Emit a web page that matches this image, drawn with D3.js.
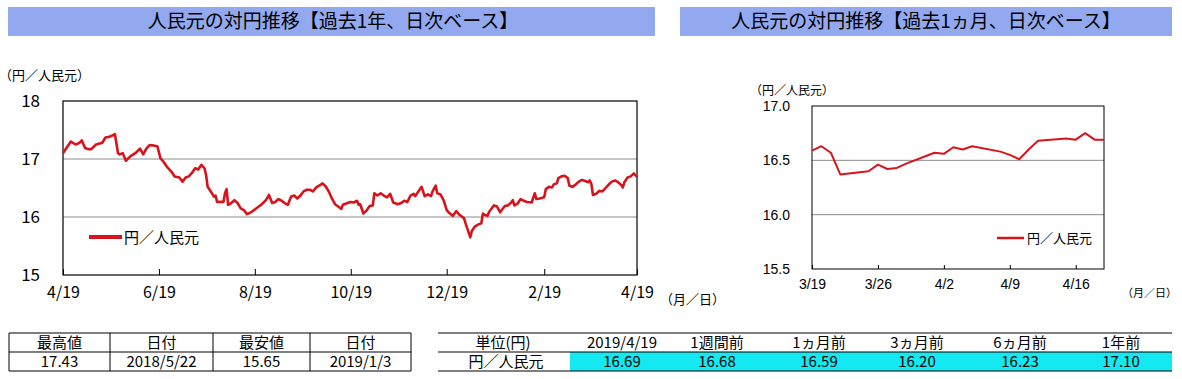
<!DOCTYPE html>
<html><head><meta charset="utf-8">
<script src="https://cdn.jsdelivr.net/npm/d3@7"></script>
<style>
body{margin:0;background:#fff;}
svg{display:block;}
.jp{font-family:"Noto Sans CJK JP",sans-serif;}
.nar{font-family:"Liberation Sans Narrow","Noto Sans CJK JP",sans-serif;}
.ar{font-family:"Liberation Sans",Arial,sans-serif;}
</style></head>
<body>
<svg id="c" width="1182" height="379"></svg>
<script>
const titleYear = "人民元の対円推移【過去1年、日次ベース】";
const titleMonth = "人民元の対円推移【過去1ヵ月、日次ベース】";
const seriesName = "円／人民元";
const unitLabel = "（円／人民元）";
const xUnitLabel = "（月／日）";

const yearDates = ["2018-04-19","2018-04-21","2018-04-24","2018-04-27","2018-04-29","2018-05-01","2018-05-03","2018-05-05","2018-05-07","2018-05-10","2018-05-14","2018-05-16","2018-05-18","2018-05-20","2018-05-22","2018-05-24","2018-05-25","2018-05-27","2018-05-29","2018-06-01","2018-06-04","2018-06-07","2018-06-09","2018-06-11","2018-06-13","2018-06-16","2018-06-18","2018-06-20","2018-06-22","2018-06-24","2018-06-27","2018-06-29","2018-07-02","2018-07-04","2018-07-06","2018-07-08","2018-07-10","2018-07-12","2018-07-14","2018-07-16","2018-07-18","2018-07-19","2018-07-20","2018-07-22","2018-07-24","2018-07-25","2018-07-26","2018-07-28","2018-07-30","2018-07-31","2018-08-01","2018-08-02","2018-08-04","2018-08-06","2018-08-08","2018-08-10","2018-08-12","2018-08-14","2018-08-15","2018-08-17","2018-08-20","2018-08-23","2018-08-26","2018-08-28","2018-08-30","2018-09-01","2018-09-03","2018-09-05","2018-09-07","2018-09-09","2018-09-11","2018-09-13","2018-09-15","2018-09-17","2018-09-19","2018-09-21","2018-09-23","2018-09-25","2018-09-27","2018-09-30","2018-10-01","2018-10-03","2018-10-05","2018-10-07","2018-10-09","2018-10-11","2018-10-13","2018-10-14","2018-10-17","2018-10-19","2018-10-21","2018-10-23","2018-10-24","2018-10-25","2018-10-27","2018-10-29","2018-10-31","2018-11-02","2018-11-03","2018-11-05","2018-11-07","2018-11-09","2018-11-11","2018-11-13","2018-11-15","2018-11-18","2018-11-20","2018-11-22","2018-11-24","2018-11-26","2018-11-28","2018-11-29","2018-12-01","2018-12-03","2018-12-05","2018-12-07","2018-12-09","2018-12-10","2018-12-12","2018-12-13","2018-12-15","2018-12-17","2018-12-19","2018-12-21","2018-12-23","2018-12-25","2018-12-27","2018-12-30","2018-12-31","2019-01-03","2019-01-04","2019-01-06","2019-01-08","2019-01-10","2019-01-11","2019-01-12","2019-01-14","2019-01-15","2019-01-18","2019-01-20","2019-01-22","2019-01-23","2019-01-25","2019-01-27","2019-01-29","2019-01-30","2019-01-31","2019-02-02","2019-02-04","2019-02-06","2019-02-08","2019-02-11","2019-02-13","2019-02-14","2019-02-16","2019-02-19","2019-02-20","2019-02-22","2019-02-24","2019-02-25","2019-02-27","2019-02-28","2019-03-02","2019-03-04","2019-03-06","2019-03-07","2019-03-09","2019-03-11","2019-03-13","2019-03-15","2019-03-17","2019-03-19","2019-03-20","2019-03-21","2019-03-22","2019-03-24","2019-03-26","2019-03-28","2019-03-30","2019-04-01","2019-04-03","2019-04-05","2019-04-07","2019-04-09","2019-04-10","2019-04-11","2019-04-13","2019-04-15","2019-04-17","2019-04-19"];
const yearValues = [17.10,17.18,17.30,17.25,17.27,17.32,17.19,17.17,17.17,17.25,17.28,17.37,17.38,17.40,17.43,17.10,17.08,17.10,16.97,17.05,17.10,17.18,17.08,17.18,17.24,17.23,17.22,17.01,16.95,16.87,16.78,16.70,16.68,16.61,16.68,16.70,16.76,16.84,16.82,16.90,16.84,16.72,16.52,16.44,16.35,16.37,16.26,16.26,16.26,16.41,16.48,16.21,16.24,16.29,16.24,16.15,16.12,16.05,16.06,16.09,16.15,16.21,16.29,16.38,16.24,16.26,16.31,16.28,16.24,16.21,16.35,16.37,16.32,16.37,16.44,16.47,16.47,16.44,16.51,16.56,16.58,16.53,16.44,16.32,16.22,16.18,16.14,16.21,16.24,16.26,16.25,16.28,16.21,16.22,16.06,16.11,16.19,16.20,16.41,16.37,16.41,16.37,16.34,16.40,16.25,16.22,16.24,16.28,16.26,16.37,16.40,16.36,16.44,16.52,16.36,16.39,16.36,16.44,16.54,16.41,16.39,16.29,16.12,16.06,16.02,16.10,16.04,15.98,15.89,15.65,15.76,15.84,15.87,15.89,16.06,16.04,16.02,16.09,16.20,16.18,16.08,16.12,16.19,16.20,16.25,16.29,16.20,16.23,16.31,16.28,16.26,16.25,16.41,16.31,16.32,16.34,16.48,16.52,16.51,16.56,16.58,16.67,16.70,16.71,16.67,16.54,16.52,16.56,16.61,16.64,16.62,16.60,16.63,16.57,16.38,16.40,16.45,16.44,16.50,16.56,16.61,16.63,16.60,16.55,16.51,16.60,16.68,16.70,16.75,16.69];
const yearYTicks = [15,16,17,18];
const yearXTicks = ["2018-04-19","2018-06-19","2018-08-19","2018-10-19","2018-12-19","2019-02-19","2019-04-19"];

const monthDates = ["2019-03-19","2019-03-20","2019-03-21","2019-03-22","2019-03-25","2019-03-26","2019-03-27","2019-03-28","2019-03-29","2019-04-01","2019-04-02","2019-04-03","2019-04-04","2019-04-05","2019-04-08","2019-04-09","2019-04-10","2019-04-11","2019-04-12","2019-04-15","2019-04-16","2019-04-17","2019-04-18","2019-04-19"];
const monthValues = [16.59,16.63,16.57,16.37,16.40,16.46,16.42,16.43,16.47,16.57,16.56,16.62,16.60,16.63,16.58,16.55,16.51,16.60,16.68,16.70,16.69,16.75,16.69,16.69];
const monthYTicks = [15.5,16.0,16.5,17.0];
const monthXTicks = ["2019-03-19","2019-03-26","2019-04-02","2019-04-09","2019-04-16"];

const statHeaders = ["最高値","日付","最安値","日付"];
const statValues = ["17.43","2018/5/22","15.65","2019/1/3"];
const compHeaders = ["単位(円)","2019/4/19","1週間前","1ヵ月前","3ヵ月前","6ヵ月前","1年前"];
const compRowLabel = "円／人民元";
const compValues = [16.69,16.68,16.59,16.20,16.23,17.10];

const svg = d3.select("#c");
const parse = d3.timeParse("%Y-%m-%d");
const fmt = d3.timeFormat("%-m/%-d");
const RED = "#d7141c";

// Titles
function titleBand(x, w, text, cx) {
  svg.append("rect").attr("x", x).attr("y", 7).attr("width", w).attr("height", 29).attr("fill", "#92a9f0");
  svg.append("text").attr("class","jp").attr("x", cx).attr("y", 28).attr("text-anchor","middle")
    .attr("font-size", 19).attr("fill","#000").text(text);
}
titleBand(8, 647, titleYear, 333);
titleBand(680, 492, titleMonth, 926);

// ---- Year chart ----
{
  const L=63,R=637,T=101,B=275;
  const x = d3.scaleTime().domain([parse(yearDates[0]), parse(yearDates[yearDates.length-1])]).range([L,R]);
  const y = d3.scaleLinear().domain([15,18]).range([B,T]);
  const g = svg.append("g");
  g.selectAll("line.grid").data([16,17]).join("line").attr("x1",L).attr("x2",R)
    .attr("y1",d=>y(d)).attr("y2",d=>y(d)).attr("stroke","#8c8c8c").attr("stroke-width",1.2);
  g.append("rect").attr("x",L).attr("y",T).attr("width",R-L).attr("height",B-T).attr("fill","none").attr("stroke","#000").attr("stroke-width",1.2);
  const xa = g.append("g").attr("transform",`translate(0,${B})`)
    .call(d3.axisBottom(x).tickValues(yearXTicks.map(parse)).tickFormat(fmt).tickSizeInner(-6).tickSizeOuter(0).tickPadding(14));
  xa.select(".domain").remove();
  xa.selectAll("line").attr("stroke","#000");
  xa.selectAll("text").attr("class","nar").attr("font-size",16).attr("fill","#000").attr("dy","0.55em");
  const ya = g.append("g").attr("transform",`translate(${L},0)`)
    .call(d3.axisLeft(y).tickValues(yearYTicks).tickFormat(d3.format("d")).tickSize(0).tickPadding(23));
  ya.select(".domain").remove();
  ya.selectAll("text").attr("class","nar").attr("font-size",17).attr("fill","#000");
  const line = d3.line().x((d,i)=>x(parse(yearDates[i]))).y(d=>y(d));
  g.append("path").attr("d", line(yearValues)).attr("fill","none").attr("stroke",RED).attr("stroke-width",2.6).attr("stroke-linejoin","round");
  g.append("text").attr("class","jp").attr("x",-1).attr("y",80).attr("font-size",13).text(unitLabel);
  g.append("text").attr("class","jp").attr("x",660).attr("y",304).attr("font-size",13).text(xUnitLabel);
  g.append("line").attr("x1",89).attr("x2",122).attr("y1",237).attr("y2",237).attr("stroke",RED).attr("stroke-width",4);
  g.append("text").attr("class","jp").attr("x",124).attr("y",243).attr("font-size",15).text(seriesName);
}

// ---- Month chart ----
{
  const L=812,R=1104,T=106,B=269;
  const x = d3.scaleTime().domain([parse(monthDates[0]), parse(monthDates[monthDates.length-1])]).range([L,R]);
  const y = d3.scaleLinear().domain([15.5,17]).range([B,T]);
  const g = svg.append("g");
  g.selectAll("line.grid").data([16,16.5]).join("line").attr("x1",L).attr("x2",R)
    .attr("y1",d=>y(d)).attr("y2",d=>y(d)).attr("stroke","#8c8c8c").attr("stroke-width",1);
  g.append("rect").attr("x",L).attr("y",T).attr("width",R-L).attr("height",B-T).attr("fill","none").attr("stroke","#000").attr("stroke-width",1);
  const xa = g.append("g").attr("transform",`translate(0,${B})`)
    .call(d3.axisBottom(x).tickValues(monthXTicks.map(parse)).tickFormat(fmt).tickSizeInner(-4).tickSizeOuter(0).tickPadding(12));
  xa.select(".domain").remove();
  xa.selectAll("line").attr("stroke","#000");
  xa.selectAll("text").attr("class","ar").attr("font-size",14).attr("fill","#000").attr("dy","0.55em");
  const ya = g.append("g").attr("transform",`translate(${L},0)`)
    .call(d3.axisLeft(y).tickValues(monthYTicks).tickFormat(d3.format(".1f")).tickSize(0).tickPadding(22));
  ya.select(".domain").remove();
  ya.selectAll("text").attr("class","ar").attr("font-size",14).attr("fill","#000");
  const line = d3.line().x((d,i)=>x(parse(monthDates[i]))).y(d=>y(d));
  g.append("path").attr("d", line(monthValues)).attr("fill","none").attr("stroke",RED).attr("stroke-width",2).attr("stroke-linejoin","round");
  g.append("text").attr("class","jp").attr("x",750).attr("y",95).attr("font-size",12).text(unitLabel);
  g.append("text").attr("class","jp").attr("x",1122).attr("y",297).attr("font-size",11).text(xUnitLabel);
  g.append("line").attr("x1",997).attr("x2",1024).attr("y1",238).attr("y2",238).attr("stroke",RED).attr("stroke-width",2.5);
  g.append("text").attr("class","jp").attr("x",1027).attr("y",243).attr("font-size",13).text(seriesName);
}

// ---- Left table ----
{
  const x0=9, x1=411, yT=333, yM=352, yB=371;
  const colEdges=[9,110,213,310,411];
  const g = svg.append("g");
  [yT,yM,yB].forEach(yy=>g.append("line").attr("x1",x0).attr("x2",x1).attr("y1",yy).attr("y2",yy).attr("stroke","#000").attr("stroke-width",1.2));
  colEdges.forEach(xx=>g.append("line").attr("x1",xx).attr("x2",xx).attr("y1",yT).attr("y2",yB).attr("stroke","#000").attr("stroke-width",1));
  statHeaders.forEach((h,i)=>{
    const cx=(colEdges[i]+colEdges[i+1])/2;
    g.append("text").attr("class","jp").attr("x",cx).attr("y",348).attr("text-anchor","middle").attr("font-size",15).text(h);
    g.append("text").attr("class","jp").attr("x",cx).attr("y",367).attr("text-anchor","middle").attr("font-size",15).text(statValues[i]);
  });
}

// ---- Right table ----
{
  const x0=438, x1=1172, yT=333, yM=352, yB=371;
  const centers=[503,622,717,819,917,1020,1121];
  const g = svg.append("g");
  g.append("rect").attr("x",570).attr("y",yM).attr("width",x1-570).attr("height",yB-yM).attr("fill","#14e8f0");
  [yT,yM,yB].forEach(yy=>g.append("line").attr("x1",x0).attr("x2",x1).attr("y1",yy).attr("y2",yy).attr("stroke","#000").attr("stroke-width",1.2));
  compHeaders.forEach((h,i)=>{
    g.append("text").attr("class","nar").attr("x",centers[i]).attr("y",348).attr("text-anchor","middle").attr("font-size",15).text(h);
  });
  g.append("text").attr("class","jp").attr("x",centers[0]+3).attr("y",367).attr("text-anchor","middle").attr("font-size",15).text(compRowLabel);
  compValues.forEach((v,i)=>{
    g.append("text").attr("class","nar").attr("x",centers[i+1]).attr("y",367).attr("text-anchor","middle").attr("font-size",15).text(v.toFixed(2));
  });
}
</script>
</body></html>
